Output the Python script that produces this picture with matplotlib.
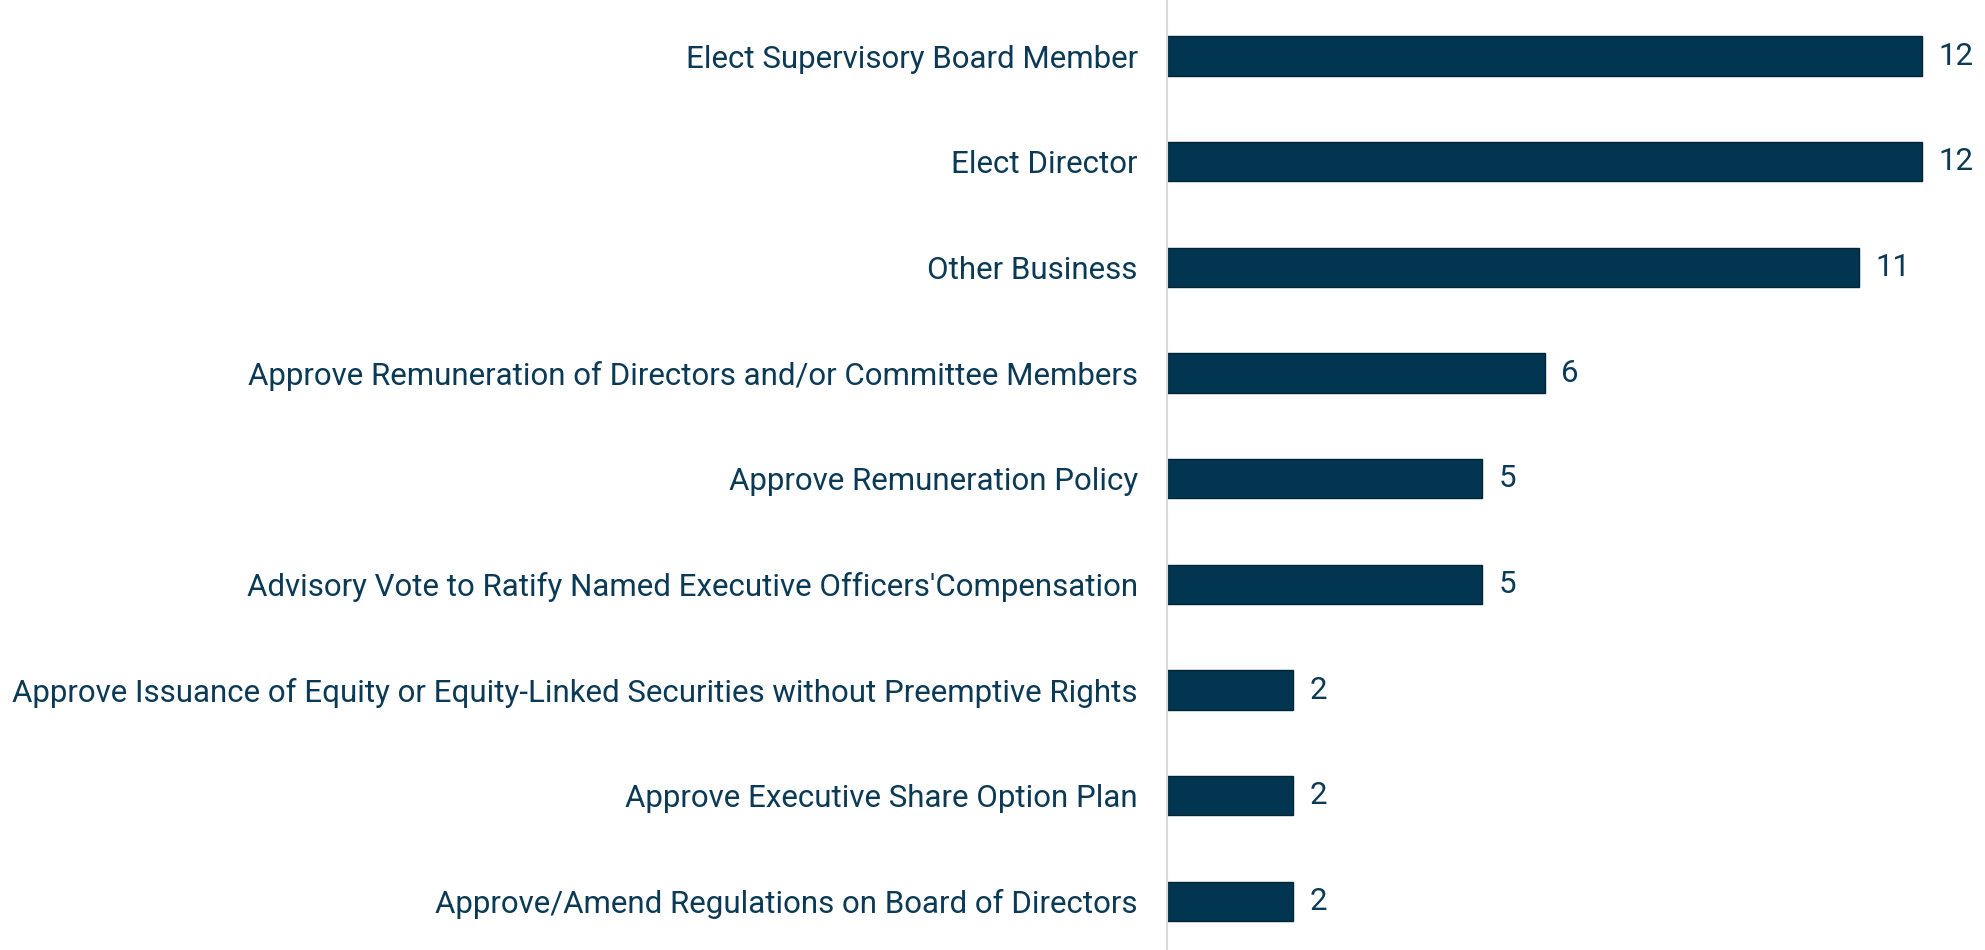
import matplotlib
matplotlib.use("Agg")
import matplotlib.pyplot as plt

# --- DATA ---
categories = [
    "Elect Supervisory Board Member",
    "Elect Director",
    "Other Business",
    "Approve Remuneration of Directors and/or Committee Members",
    "Approve Remuneration Policy",
    "Advisory Vote to Ratify Named Executive Officers'Compensation",
    "Approve Issuance of Equity or Equity-Linked Securities without Preemptive Rights",
    "Approve Executive Share Option Plan",
    "Approve/Amend Regulations on Board of Directors",
]
counts = [12, 12, 11, 6, 5, 5, 2, 2, 2]

plt.rcParams["font.family"] = ["Roboto", "DejaVu Sans"]

BAR = "#02354f"
TEXT = "#0b3a56"

fig = plt.figure(figsize=(19.85, 9.5), dpi=100)
ax = fig.add_axes([1167 / 1985, 0, 1 - 1167 / 1985, 1])

y = list(range(len(categories)))
ax.barh(y, counts, height=0.37, color=BAR, edgecolor="#01263a", linewidth=1)
# a bit more room on top than at the bottom, like the original
ax.set_ylim(len(categories) - 0.54, -0.53)
ax.set_xlim(0, 13)

ax.set_yticks(y)
ax.set_yticklabels(categories, fontsize=22.5, color=TEXT)
ax.tick_params(axis="y", length=0, pad=21)
ax.set_xticks([])

for s in ["top", "right", "bottom"]:
    ax.spines[s].set_visible(False)
ax.spines["left"].set_color("#d9d9d9")
ax.spines["left"].set_linewidth(1.5)

# value labels right of each bar
for yi, v in zip(y, counts):
    ax.annotate(str(v), (v, yi), xytext=(12, 0), textcoords="offset points",
                va="center", ha="left", fontsize=22.5, color=TEXT)

fig.savefig("out.png", dpi=100)
